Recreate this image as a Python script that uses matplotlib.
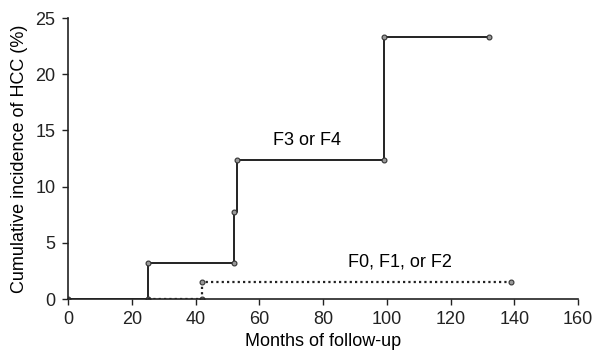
import matplotlib.pyplot as plt

plt.rcParams['font.family'] = ['Liberation Sans', 'DejaVu Sans']

# F3 or F4 group (step curve)
f34_x = [0, 25, 52, 53, 99, 132]
f34_y = [0, 3.2, 7.7, 12.4, 23.3, 23.3]
f34_mark_x = [0, 25, 25, 52, 52, 53, 99, 99, 132]
f34_mark_y = [0, 0, 3.2, 3.2, 7.7, 12.4, 12.4, 23.3, 23.3]

# F0, F1, or F2 group
f012_x = [25, 42, 139]
f012_y = [0, 1.5, 1.5]
f012_mark_x = [42, 42, 139]
f012_mark_y = [0, 1.5, 1.5]

x_ticks = [0, 20, 40, 60, 80, 100, 120, 140, 160]
y_ticks = [0, 5, 10, 15, 20, 25]

fig = plt.figure(figsize=(5.93, 3.54), dpi=100)
ax = fig.add_axes([68 / 593, 55 / 354, 510 / 593, 281 / 354])

ax.plot(f34_x, f34_y, color='#222222', lw=1.4, drawstyle='steps-post')
ax.plot(f34_mark_x, f34_mark_y, 'o', ms=3.5, mfc='#999999', mec='#333333', mew=0.8)
ax.plot(f012_x, f012_y, color='#222222', lw=1.6, ls=(0, (1, 1.4)), drawstyle='steps-post')
ax.plot(f012_mark_x, f012_mark_y, 'o', ms=3.5, mfc='#999999', mec='#333333', mew=0.8)

ax.text(75, 14.1, 'F3 or F4', fontsize=13, ha='center', va='center')
ax.text(104, 3.3, 'F0, F1, or F2', fontsize=13, ha='center', va='center')

ax.set_xlim(0, 160)
ax.set_ylim(0, 25)
ax.set_xticks(x_ticks)
ax.set_yticks(y_ticks)
ax.tick_params(labelsize=13, length=4, width=1, colors='#222222', pad=5)
for side in ['top', 'right']:
    ax.spines[side].set_visible(False)
for side in ['left', 'bottom']:
    ax.spines[side].set_color('#222222')
    ax.spines[side].set_linewidth(1.2)

ax.set_xlabel('Months of follow-up', fontsize=13, labelpad=3)
ax.set_ylabel('Cumulative incidence of HCC (%)', fontsize=13, labelpad=5)

fig.savefig('out.png', dpi=100)
